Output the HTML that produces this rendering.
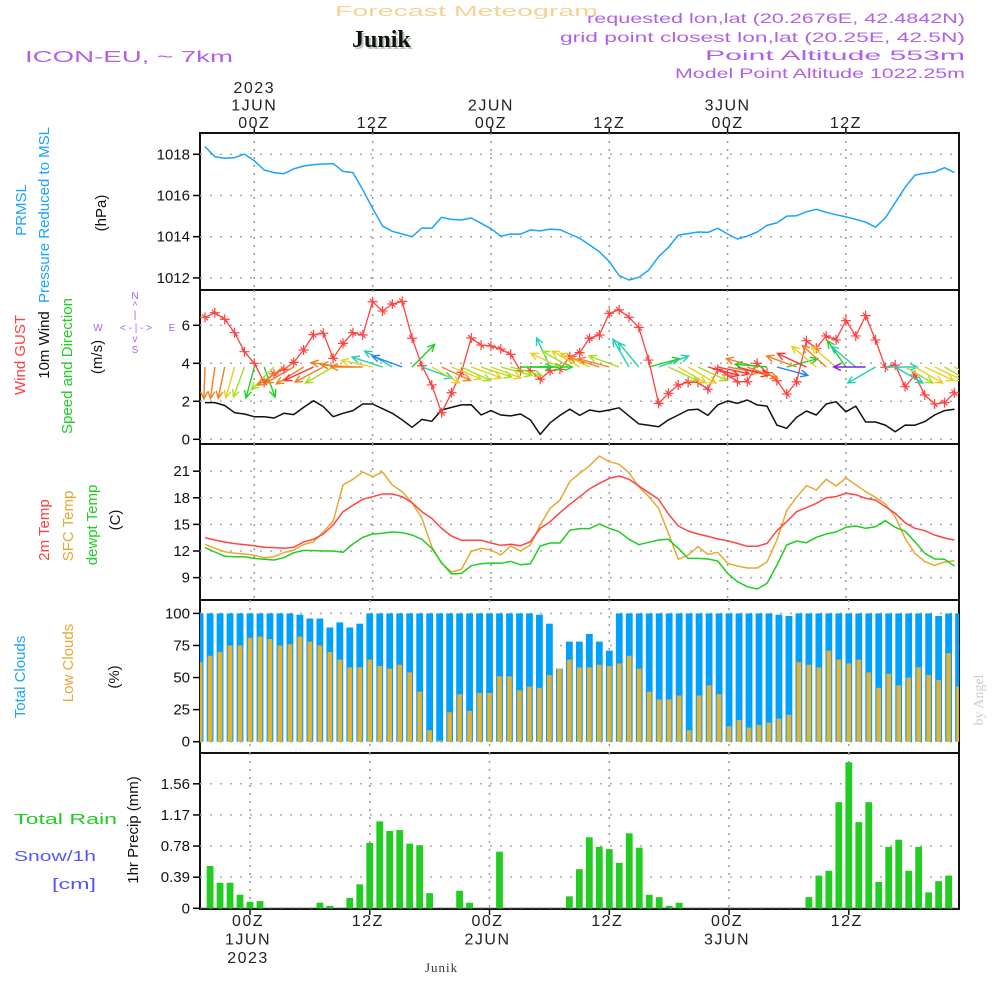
<!DOCTYPE html>
<html><head><meta charset="utf-8"><style>
html,body{margin:0;padding:0;background:#fff;}
svg{display:block;font-family:"Liberation Sans",sans-serif;}
</style></head><body>
<svg id="chart" width="1000" height="1000" viewBox="0 0 1000 1000" xmlns="http://www.w3.org/2000/svg">
<defs>
<clipPath id="c1"><rect x="200" y="133" width="759" height="157"/></clipPath>
<clipPath id="c2"><rect x="200" y="290" width="759" height="154"/></clipPath>
<clipPath id="c3"><rect x="200" y="444" width="759" height="156"/></clipPath>
<clipPath id="c4"><rect x="200" y="600" width="759" height="153"/></clipPath>
<clipPath id="c5"><rect x="200" y="753" width="759" height="156"/></clipPath>
</defs>
<text x="335" y="16" font-size="15" fill="#f6d296" textLength="263" lengthAdjust="spacingAndGlyphs">Forecast Meteogram</text>
<text x="354" y="49" font-size="24" font-weight="bold" font-family="Liberation Serif,serif" fill="#b8c8b8">Junik</text>
<text x="352" y="47" font-size="24" font-weight="bold" font-family="Liberation Serif,serif" fill="#111">Junik</text>
<text x="25" y="62" font-size="16" fill="#b060e8" textLength="208" lengthAdjust="spacingAndGlyphs">ICON-EU, ~ 7km</text>
<g fill="#b060e8" font-size="14" text-anchor="end">
<text x="965" y="23" textLength="378" lengthAdjust="spacingAndGlyphs">requested lon,lat (20.2676E, 42.4842N)</text>
<text x="965" y="42" textLength="405" lengthAdjust="spacingAndGlyphs">grid point closest lon,lat (20.25E, 42.5N)</text>
<text x="965" y="60" textLength="260" lengthAdjust="spacingAndGlyphs">Point Altitude 553m</text>
<text x="965" y="78" textLength="290" lengthAdjust="spacingAndGlyphs">Model Point Altitude 1022.25m</text>
</g>
<text transform="translate(983,700) rotate(-90)" text-anchor="middle" font-size="14" font-family="Liberation Serif,serif" fill="#ccc">by Angel</text>
<g id="axes"></g>
<g id="plots"></g>
<g font-size="15" text-anchor="middle">
<text transform="translate(26,210) rotate(-90)" fill="#1aa3ff">PRMSL</text>
<text transform="translate(49,215) rotate(-90)" fill="#1aa3ff">Pressure Reduced to MSL</text>
<text transform="translate(106,213) rotate(-90)" fill="#111">(hPa)</text>
</g>
<g font-size="15" text-anchor="middle">
<text transform="translate(25,355) rotate(-90)" fill="#ff4040">Wind GUST</text>
<text transform="translate(49,345) rotate(-90)" fill="#111">10m Wind</text>
<text transform="translate(72,366) rotate(-90)" fill="#22cc22">Speed and Direction</text>
<text transform="translate(102,357) rotate(-90)" fill="#111">(m/s)</text>
</g>
<g fill="#a860f0" font-size="10" text-anchor="middle">
<text x="135" y="299">N</text><text x="135" y="309">^</text><text x="135" y="318">|</text>
<text x="98" y="331">W</text><text x="136" y="331">&lt; - | - &gt;</text><text x="172" y="331">E</text>
<text x="135" y="342">v</text><text x="135" y="353">S</text>
</g>
<g font-size="15" text-anchor="middle">
<text transform="translate(49,530) rotate(-90)" fill="#ff4040">2m Temp</text>
<text transform="translate(73,526) rotate(-90)" fill="#e8a830">SFC Temp</text>
<text transform="translate(97,525) rotate(-90)" fill="#22cc22">dewpt Temp</text>
<text transform="translate(120,520) rotate(-90)" fill="#111">(C)</text>
</g>
<g font-size="15" text-anchor="middle">
<text transform="translate(25,677) rotate(-90)" fill="#1aa3ff">Total Clouds</text>
<text transform="translate(73,663) rotate(-90)" fill="#e8a830">Low Clouds</text>
<text transform="translate(119,677) rotate(-90)" fill="#111">(%)</text>
</g>
<g font-size="15">
<text x="14" y="824" fill="#22cc22" textLength="103" lengthAdjust="spacingAndGlyphs">Total   Rain</text>
<text x="14" y="861" fill="#5555ff" textLength="82" lengthAdjust="spacingAndGlyphs">Snow/1h</text>
<text x="52" y="889" fill="#5555ff" textLength="44" lengthAdjust="spacingAndGlyphs">[cm]</text>
<text transform="translate(138,830) rotate(-90)" text-anchor="middle" fill="#111">1hr Precip (mm)</text>
</g>
<text x="425" y="972" font-size="13" font-family="Liberation Serif,serif" fill="#333" letter-spacing="1">Junik</text>
</svg>
<script>
const hourStart = -5;
const pressure = [1018.37,1017.88,1017.81,1017.84,1018.01,1017.69,1017.24,1017.11,1017.06,1017.29,1017.43,1017.50,1017.53,1017.55,1017.17,1017.11,1016.27,1015.38,1014.52,1014.26,1014.13,1014.0,1014.42,1014.41,1014.94,1014.84,1014.81,1014.91,1014.65,1014.39,1014.03,1014.13,1014.12,1014.33,1014.28,1014.37,1014.34,1014.13,1013.92,1013.6,
1013.27,1012.79,1012.11,1011.90,1012.03,1012.38,1013.03,1013.48,1014.08,1014.15,1014.23,1014.21,1014.41,1014.13,1013.89,1014.03,1014.23,1014.55,1014.67,1015.0,1015.02,1015.21,1015.33,1015.18,1015.07,1014.96,1014.84,1014.71,1014.46,1014.91,1015.65,1016.40,1016.99,1017.08,1017.14,1017.35,1017.11];
const windMean = [1.93,1.93,1.78,1.40,1.33,1.19,1.19,1.12,1.37,1.30,1.68,2.03,1.72,1.19,1.37,1.51,1.86,1.86,1.61,1.37,1.02,0.63,1.05,0.95,1.54,1.68,1.81,1.82,1.28,1.51,1.28,1.23,1.33,1.02,0.26,0.87,1.26,1.59,1.26,1.54,
1.45,1.54,1.66,1.23,0.81,0.74,0.66,1.02,1.28,1.54,1.58,1.26,1.81,2.02,1.89,2.07,1.81,1.75,0.75,0.58,1.16,1.49,1.28,1.86,1.98,1.45,1.75,0.91,0.91,0.75,0.40,0.75,0.74,0.93,1.28,1.51,1.58];
const windGust = [6.42,6.66,6.32,5.61,4.61,4.00,3.00,3.44,3.68,4.05,4.70,5.51,5.58,4.26,5.05,5.61,5.49,7.24,6.75,7.12,7.26,5.32,3.87,2.86,1.40,2.45,3.53,5.33,4.96,4.91,4.75,4.47,3.61,3.61,3.16,3.61,3.68,4.35,4.56,5.32,
5.49,6.63,6.81,6.42,5.89,4.17,1.89,2.42,2.86,3.00,3.00,2.63,3.68,3.38,3.03,3.03,4.00,3.51,3.08,2.38,3.03,5.19,4.79,5.44,5.23,6.24,5.44,6.51,5.23,3.79,3.91,2.77,3.38,2.33,1.86,1.93,2.45];
const windDir = [268,262,258,254,250,255,290,225,215,210,212,205,208,210,172,176,180,168,162,150,160,45,340,330,335,338,335,340,342,340,345,345,0,0,0,115,155,150,150,155,162,165,160,120,130,15,20,335,330,330,335,345,348,350,345,340,165,175,345,15,160,155,140,138,140,125,140,180,210,0,330,330,330,335,335,330,330];
const windClass = [1,1,1,2,3,4,4,3,1,1,1,0,1,3,1,1,1,2,5,5,6,4,5,2,1,2,3,2,3,2,3,3,4,4,4,5,2,3,2,2,1,1,3,5,5,4,5,3,2,2,3,0,0,1,0,1,1,4,6,4,1,0,2,1,2,4,5,7,5,5,5,3,2,2,2,3,2];
const temp2m = [13.50,13.24,13.01,12.83,12.72,12.60,12.42,12.38,12.30,12.42,13.01,13.32,13.92,14.93,16.43,17.15,17.83,18.12,18.43,18.43,18.12,17.44,16.43,15.68,14.55,13.69,13.21,13.21,13.21,12.90,12.64,12.75,12.60,13.05,14.55,15.30,16.32,17.26,18.12,19.0,
19.63,20.19,20.46,20.08,19.33,18.58,17.83,16.17,14.82,14.25,13.92,13.65,13.35,13.16,12.86,12.53,12.53,12.86,14.29,15.31,16.43,16.89,17.37,18.01,18.13,18.50,18.35,17.94,17.75,17.0,16.25,15.19,14.56,14.29,13.80,13.47,13.24];
const tempSfc = [12.75,12.30,11.92,11.74,11.66,11.51,11.25,11.36,11.81,12.11,12.72,13.05,14.14,15.38,19.44,20.08,20.91,20.38,20.91,19.44,18.69,17.44,15.68,12.49,10.61,9.63,9.93,11.96,12.30,12.11,11.55,12.56,12.0,12.68,14.93,16.81,17.75,19.82,20.76,21.62,
22.71,22.07,21.77,20.83,19.25,18.13,16.81,13.99,11.06,11.55,12.49,11.62,11.85,10.61,10.31,10.08,10.08,10.76,13.24,16.55,18.05,19.37,18.88,20.08,19.33,20.23,19.48,18.69,18.05,17.30,15.87,13.43,11.74,10.80,10.38,10.76,10.91];
const tempDew = [12.38,11.89,11.40,11.36,11.36,11.17,11.06,10.99,11.25,11.81,12.07,12.04,12.0,12.0,11.85,12.79,13.54,13.92,14.0,14.14,14.06,13.80,13.32,12.30,10.68,9.41,9.48,10.34,10.57,10.64,10.61,10.83,10.46,10.57,12.56,12.90,12.90,14.33,14.52,14.52,
15.04,14.56,14.18,13.32,12.71,12.98,13.24,13.32,12.30,11.17,11.17,11.10,10.87,9.48,8.54,7.98,7.72,8.35,10.42,12.68,13.13,12.94,13.54,13.92,14.14,14.67,14.82,14.56,14.74,15.42,14.67,14.22,13.05,11.74,11.10,11.06,10.31];
const cloudTotal = [100,100,100,100,100,100,100,100,100,100,99,96,96,89,93,89,92,100,100,100,100,100,100,100,100,100,100,100,100,100,100,100,100,100,99,92,57,78,78,84,
78,71,100,100,100,100,100,100,100,100,100,100,100,100,100,100,100,100,99,98,100,100,100,100,100,100,100,100,100,100,100,100,100,100,98,100,100];
const cloudLow = [62,67,70,75,75,81,82,80,75,76,82,78,75,70,64,58,58,64,59,57,60,54,39,9,1,23,37,24,38,38,51,51,40,43,42,52,57,64,58,58,
60,59,61,67,57,39,33,33,36,9,36,44,37,12,17,11,13,15,18,21,62,60,58,71,64,61,64,54,42,53,44,50,58,52,48,69,43];
const precip = [0,0.53,0.32,0.32,0.17,0.08,0.09,0,0,0,0,0,0.07,0.03,0,0.13,0.30,0.82,1.09,0.97,0.98,0.81,0.79,0.19,0,0,0.22,0.07,0,0,0.71,0,0,0,0,0,0,0.15,0.49,0.89,
0.77,0.74,0.57,0.94,0.76,0.17,0.14,0.03,0.07,0,0,0,0,0,0,0,0,0,0,0,0,0.14,0.41,0.47,1.33,1.83,1.08,1.33,0.33,0.77,0.86,0.47,0.77,0.20,0.34,0.41,0];
const timeTicks = [0,12,24,36,48,60];
const timeLabelsTop = [["2023","1JUN","00Z"],["12Z"],["2JUN","00Z"],["12Z"],["3JUN","00Z"],["12Z"]];
const timeLabelsBot = [["00Z","1JUN","2023"],["12Z"],["00Z","2JUN"],["12Z"],["00Z","3JUN"],["12Z"]];
const pTicks = [1012,1014,1016,1018];
const wTicks = [0,2,4,6];
const tTicks = [9,12,15,18,21];
const cTicks = [0,25,50,75,100];
const rTicks = [0,0.39,0.78,1.17,1.56];

const NS = "http://www.w3.org/2000/svg";
const xTop = h => 254.3 + 9.86 * h;
const xBot = h => 250 + 9.98 * h;
const yP = p => 154.3 + (1018 - p) * 20.6;
const yW = v => 439.3 - 19 * v;
const yT = t => 551 - (t - 12) * 8.87;
const yC = c => 741.7 - 1.283 * c;
const yR = r => 908.3 - 79.8 * r;
const palette = ['#ff3030','#f08020','#e8d020','#a0e020','#20d020','#20d0b0','#2080ff','#8020e0'];
const plots = document.getElementById('plots');
const axes = document.getElementById('axes');
function mk(tag, attrs, parent){const e=document.createElementNS(NS,tag);for(const k in attrs)e.setAttribute(k,attrs[k]);(parent||plots).appendChild(e);return e;}
const hr = i => hourStart + i;

const panels = [
 {y0:133,y1:290,clip:'c1',ticks:pTicks,ys:yP,xs:xTop,name:'pressure',fmt:v=>String(v)},
 {y0:290,y1:444,clip:'c2',ticks:wTicks,ys:yW,xs:xTop,name:'wind',fmt:v=>String(v)},
 {y0:444,y1:600,clip:'c3',ticks:tTicks,ys:yT,xs:xTop,name:'temperature',fmt:v=>String(v)},
 {y0:600,y1:753,clip:'c4',ticks:cTicks,ys:yC,xs:xBot,name:'clouds',fmt:v=>String(v)},
 {y0:753,y1:909,clip:'c5',ticks:rTicks,ys:yR,xs:xBot,name:'precip',fmt:v=>String(v)}
];
const groups = {};
panels.forEach(p=>{
  const g = mk('g',{'clip-path':'url(#'+p.clip+')'});
  
  
  groups[p.name]=g;
  timeTicks.forEach(h=>{ mk('line',{x1:p.xs(h),x2:p.xs(h),y1:p.y0,y2:p.y1,stroke:'#999','stroke-width':1.5,'stroke-dasharray':'2,6'},g); });
  p.ticks.forEach(v=>{
    const y=p.ys(v);
    mk('line',{x1:200,x2:959,y1:y,y2:y,stroke:'#aaa','stroke-width':1.5,'stroke-dasharray':'2,8'},g);
    mk('line',{x1:193,x2:200,y1:y,y2:y,stroke:'#000','stroke-width':1.5},axes);
    const t=mk('text',{x:190,y:y+5,'text-anchor':'end','font-size':15,fill:'#111'},axes);
    
    
    t.textContent=p.fmt(v);
  });
});
function polyline(vals, xs, ys, color, g, name, w){
  const pts = vals.map((v,i)=>xs(hr(i)).toFixed(1)+','+ys(v).toFixed(1)).join(' ');
  const l = mk('polyline',{points:pts,fill:'none',stroke:color,'stroke-width':w||1.5,'stroke-linejoin':'round'},g);
  
  
  return l;
}
polyline(pressure, xTop, yP, '#1aa3ff', groups.pressure, 'pressure-line');
polyline(windMean, xTop, yW, '#111', groups.wind, 'mean-wind-line');
polyline(windGust, xTop, yW, '#ff4040', groups.wind, 'gust-line', 1.3);
windGust.forEach((v,i)=>{
  const x=xTop(hr(i)), y=yW(v);
  const m=mk('path',{d:`M${x-5},${y}H${x+5}M${x},${y-5}V${y+5}M${x-3},${y-3}L${x+3},${y+3}`,stroke:'#ff4040','stroke-width':1.2,fill:'none'},groups.wind);
  
  
});
windDir.forEach((d,i)=>{
  const x0=xTop(hr(i)), y0=367, L=32, a=d*Math.PI/180;
  const x1=x0+L*Math.cos(a), y1=y0-L*Math.sin(a);
  const b1=a+Math.PI-0.45, b2=a+Math.PI+0.45;
  const col=palette[windClass[i]];
  const ar=mk('path',{d:`M${x0},${y0}L${x1},${y1}M${x1+8*Math.cos(b1)},${y1-8*Math.sin(b1)}L${x1},${y1}L${x1+8*Math.cos(b2)},${y1-8*Math.sin(b2)}`,stroke:col,'stroke-width':1.4,fill:'none'},groups.wind);
  
  
});
polyline(tempSfc, xTop, yT, '#e8a830', groups.temperature, 'sfc-temp-line');
polyline(temp2m, xTop, yT, '#ff4444', groups.temperature, 'temp-2m-line');
polyline(tempDew, xTop, yT, '#22cc22', groups.temperature, 'dewpoint-line');
cloudTotal.forEach((c,i)=>{
  const x=xBot(hr(i));
  const r=mk('rect',{x:x-3.4,y:yC(c),width:6.8,height:yC(0)-yC(c),fill:'#00a0ff'},groups.clouds);
  
  
});
cloudLow.forEach((c,i)=>{
  const x=xBot(hr(i));
  const r=mk('rect',{x:x-2.3,y:yC(c),width:4.6,height:yC(0)-yC(c),fill:'#e6b030'},groups.clouds);
  
  
});
mk('line',{x1:200,x2:959,y1:yR(0),y2:yR(0),stroke:'#333','stroke-width':1},groups.precip);
precip.forEach((p,i)=>{
  if(p<=0) return;
  const x=xBot(hr(i));
  const r=mk('rect',{x:x-3.4,y:yR(p),width:6.8,height:yR(0)-yR(p),fill:'#22cc22'},groups.precip);
  
  
});
panels.forEach(p=>{
  const f=mk('rect',{x:200,y:p.y0,width:759,height:p.y1-p.y0,fill:'none',stroke:'#111','stroke-width':2},axes);
  
  
});
timeTicks.forEach((h,k)=>{
  const xt=xTop(h), xb=xBot(h);
  mk('line',{x1:xt,x2:xt,y1:127,y2:133,stroke:'#111','stroke-width':1.5},axes);
  mk('line',{x1:xb,x2:xb,y1:909,y2:915,stroke:'#111','stroke-width':1.5},axes);
  const lt=timeLabelsTop[k];
  lt.forEach((s,j)=>{
    const t=mk('text',{x:xt,y:128-(lt.length-1-j)*17.5,'text-anchor':'middle','font-size':16,fill:'#222','letter-spacing':1.5},axes);
    
    
    t.textContent=s;
  });
  timeLabelsBot[k].forEach((s,j)=>{
    const t=mk('text',{x:xb-2,y:926+j*18.5,'text-anchor':'middle','font-size':16,fill:'#222','letter-spacing':1.5},axes);
    
    
    t.textContent=s;
  });
});
</script>
</body></html>
